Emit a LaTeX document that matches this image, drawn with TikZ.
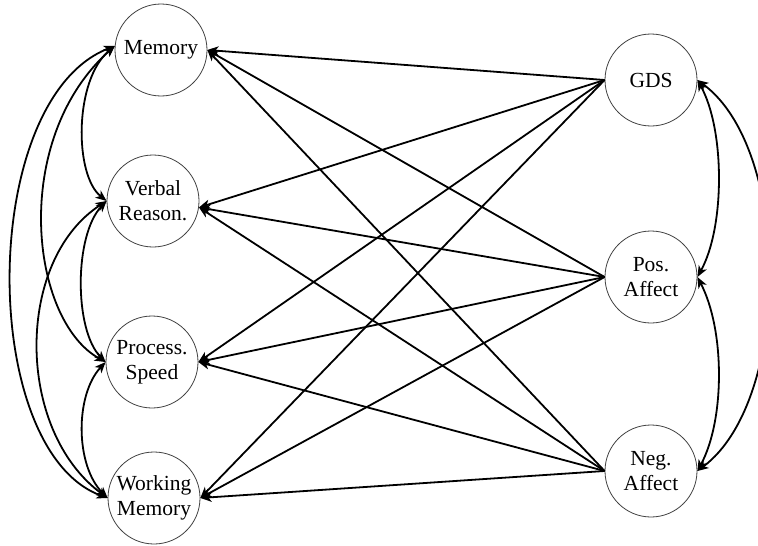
\documentclass[tikz,border=0pt]{standalone}
\usepackage{fontspec}
\setmainfont{Liberation Serif}
\usetikzlibrary{arrows.meta}
\begin{document}
\begin{tikzpicture}[x=1pt,y=-1pt,
  var/.style={circle,draw=black!75,line width=0.8pt,minimum size=92pt,inner sep=0pt,
    align=center,font=\fontsize{21.5}{25}\selectfont},
  tip/.style={Stealth[length=11pt,width=9pt,inset=3pt]},
  reg/.style={line width=1.8pt,-{Stealth[length=11pt,width=9pt,inset=3pt]}},
  cov/.style={line width=1.8pt,{Stealth[length=11pt,width=9pt,inset=3pt]}-{Stealth[length=11pt,width=9pt,inset=3pt]}}]
\useasboundingbox (0,0) rectangle (758,546);
\node[var] (mem) at (161,50) {Memory};
\node[var] (verb) at (153,201) {Verbal\\Reason.};
\node[var] (proc) at (152,362) {Process.\\Speed};
\node[var] (wm) at (154,498) {Working\\Memory};
\node[var] (gds) at (651,80) {GDS};
\node[var] (pos) at (651,277) {Pos.\\Affect};
\node[var] (neg) at (651,471) {Neg.\\Affect};
% regressions
\foreach \s in {gds,pos,neg}{
  \draw[reg] (\s.west) -- (mem.east);
  \draw[reg] (\s.west) -- (verb.-8);
  \draw[reg] (\s.west) -- (proc.east);
  \draw[reg] (\s.west) -- (wm.east);
}
% covariances left
\draw[cov] (mem.175) .. controls (74,80) and (74,175) .. (verb.west);
\draw[cov] (mem.175) .. controls (10,140) and (30,320) .. (proc.west);
\draw[cov] (mem.175) .. controls (-22,100) and (-22,450) .. (wm.west);
\draw[cov] (verb.west) .. controls (74,235) and (74,330) .. (proc.west);
\draw[cov] (verb.west) .. controls (15,260) and (15,430) .. (wm.west);
\draw[cov] (proc.west) .. controls (75,395) and (75,465) .. (wm.west);
% covariances right
\draw[cov] (gds.east) .. controls (725,130) and (725,227) .. (pos.east);
\draw[cov] (gds.east) .. controls (792,150) and (792,400) .. (neg.east);
\draw[cov] (pos.east) .. controls (725,330) and (725,420) .. (neg.east);
\end{tikzpicture}
\end{document}
